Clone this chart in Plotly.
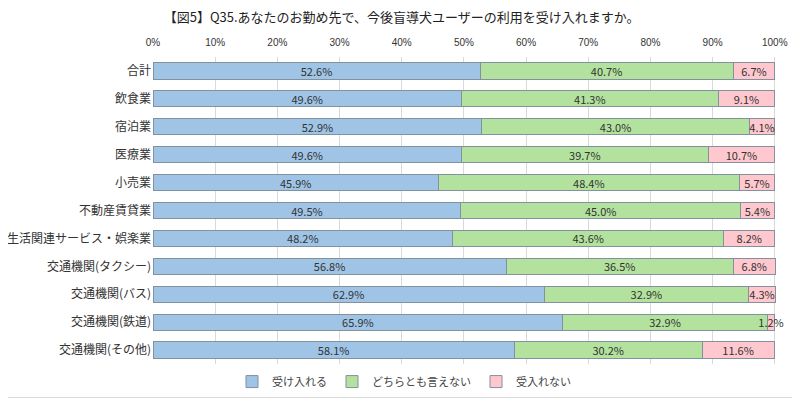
import plotly.graph_objects as go

categories = ["合計", "飲食業", "宿泊業", "医療業", "小売業", "不動産賃貸業",
              "生活関連サービス・娯楽業", "交通機関(タクシー)", "交通機関(バス)",
              "交通機関(鉄道)", "交通機関(その他)"]
accept = [52.6, 49.6, 52.9, 49.6, 45.9, 49.5, 48.2, 56.8, 62.9, 65.9, 58.1]
neutral = [40.7, 41.3, 43.0, 39.7, 48.4, 45.0, 43.6, 36.5, 32.9, 32.9, 30.2]
reject = [6.7, 9.1, 4.1, 10.7, 5.7, 5.4, 8.2, 6.8, 4.3, 1.2, 11.6]
series_names = ["受け入れる", "どちらとも言えない", "受入れない"]
colors = ["#9FC4E6", "#B2E29E", "#FFC8CE"]
tick_vals = [0, 10, 20, 30, 40, 50, 60, 70, 80, 90, 100]
tick_text = [f"{v}%" for v in tick_vals]

FONT = "Noto Sans CJK JP"
fig = go.Figure()
for name, vals, col in zip(series_names, [accept, neutral, reject], colors):
    fig.add_trace(go.Bar(
        y=categories, x=vals, name=name, orientation="h",
        marker=dict(color=col, line=dict(color="#83909E", width=1)),
        text=[f"{v:.1f}%" for v in vals], textposition="inside",
        insidetextanchor="middle", textangle=0, constraintext="none",
        textfont=dict(size=11, color="#333333", family=FONT),
        cliponaxis=False,
    ))

# page body has an 8px margin, so the figure is sized to fill the rest of the window
W, H = 792, 392
L, R, T, B = 145, 24, 49, 36
pw, ph = W - L - R, H - T - B

fig.update_layout(
    width=W, height=H, barmode="stack", bargap=0.42,
    paper_bgcolor="white", plot_bgcolor="white",
    margin=dict(l=L, r=R, t=T, b=B, autoexpand=False),
    font=dict(family=FONT, size=11, color="#333333"),
    title=dict(text="【図5】Q35.あなたのお勤め先で、今後盲導犬ユーザーの利用を受け入れますか。",
               x=0.497, xref="container", xanchor="center", y=0.975, yanchor="middle",
               yref="container",
               font=dict(size=13, color="#222222", family=FONT)),
    uniformtext=dict(minsize=11, mode="show"),
    legend=dict(orientation="h", x=0.5, xref="container", xanchor="center",
                y=0.047, yref="container", yanchor="middle",
                font=dict(size=11, color="#444444", family=FONT),
                itemwidth=30, traceorder="normal"),
    xaxis=dict(side="top", range=[0, 100.2], tickvals=tick_vals, ticktext=tick_text,
               showgrid=True, gridcolor="#D9D9D9", gridwidth=1, zeroline=False,
               showline=False, ticks="", automargin=False, ticklabelstandoff=8,
               tickfont=dict(size=10, color="#333333", family="Liberation Sans")),
    yaxis=dict(autorange="reversed", showgrid=False, showline=False, ticks="",
               automargin=False, ticklabelstandoff=1,
               tickfont=dict(size=12, color="#333333", family=FONT)),
    shapes=[
        dict(type="line", xref="paper", yref="paper",
             x0=(pw + R - 1.5) / pw, x1=(pw + R - 1.5) / pw,
             y0=(-B) / ph, y1=(ph + T) / ph,
             line=dict(color="#D9D9D9", width=1), layer="below"),
        dict(type="line", xref="paper", yref="paper",
             x0=(-L) / pw, x1=(pw + R) / pw,
             y0=(-B + 2.5) / ph, y1=(-B + 2.5) / ph,
             line=dict(color="#D9D9D9", width=1), layer="below"),
    ],
)

fig.write_html("out.html")
